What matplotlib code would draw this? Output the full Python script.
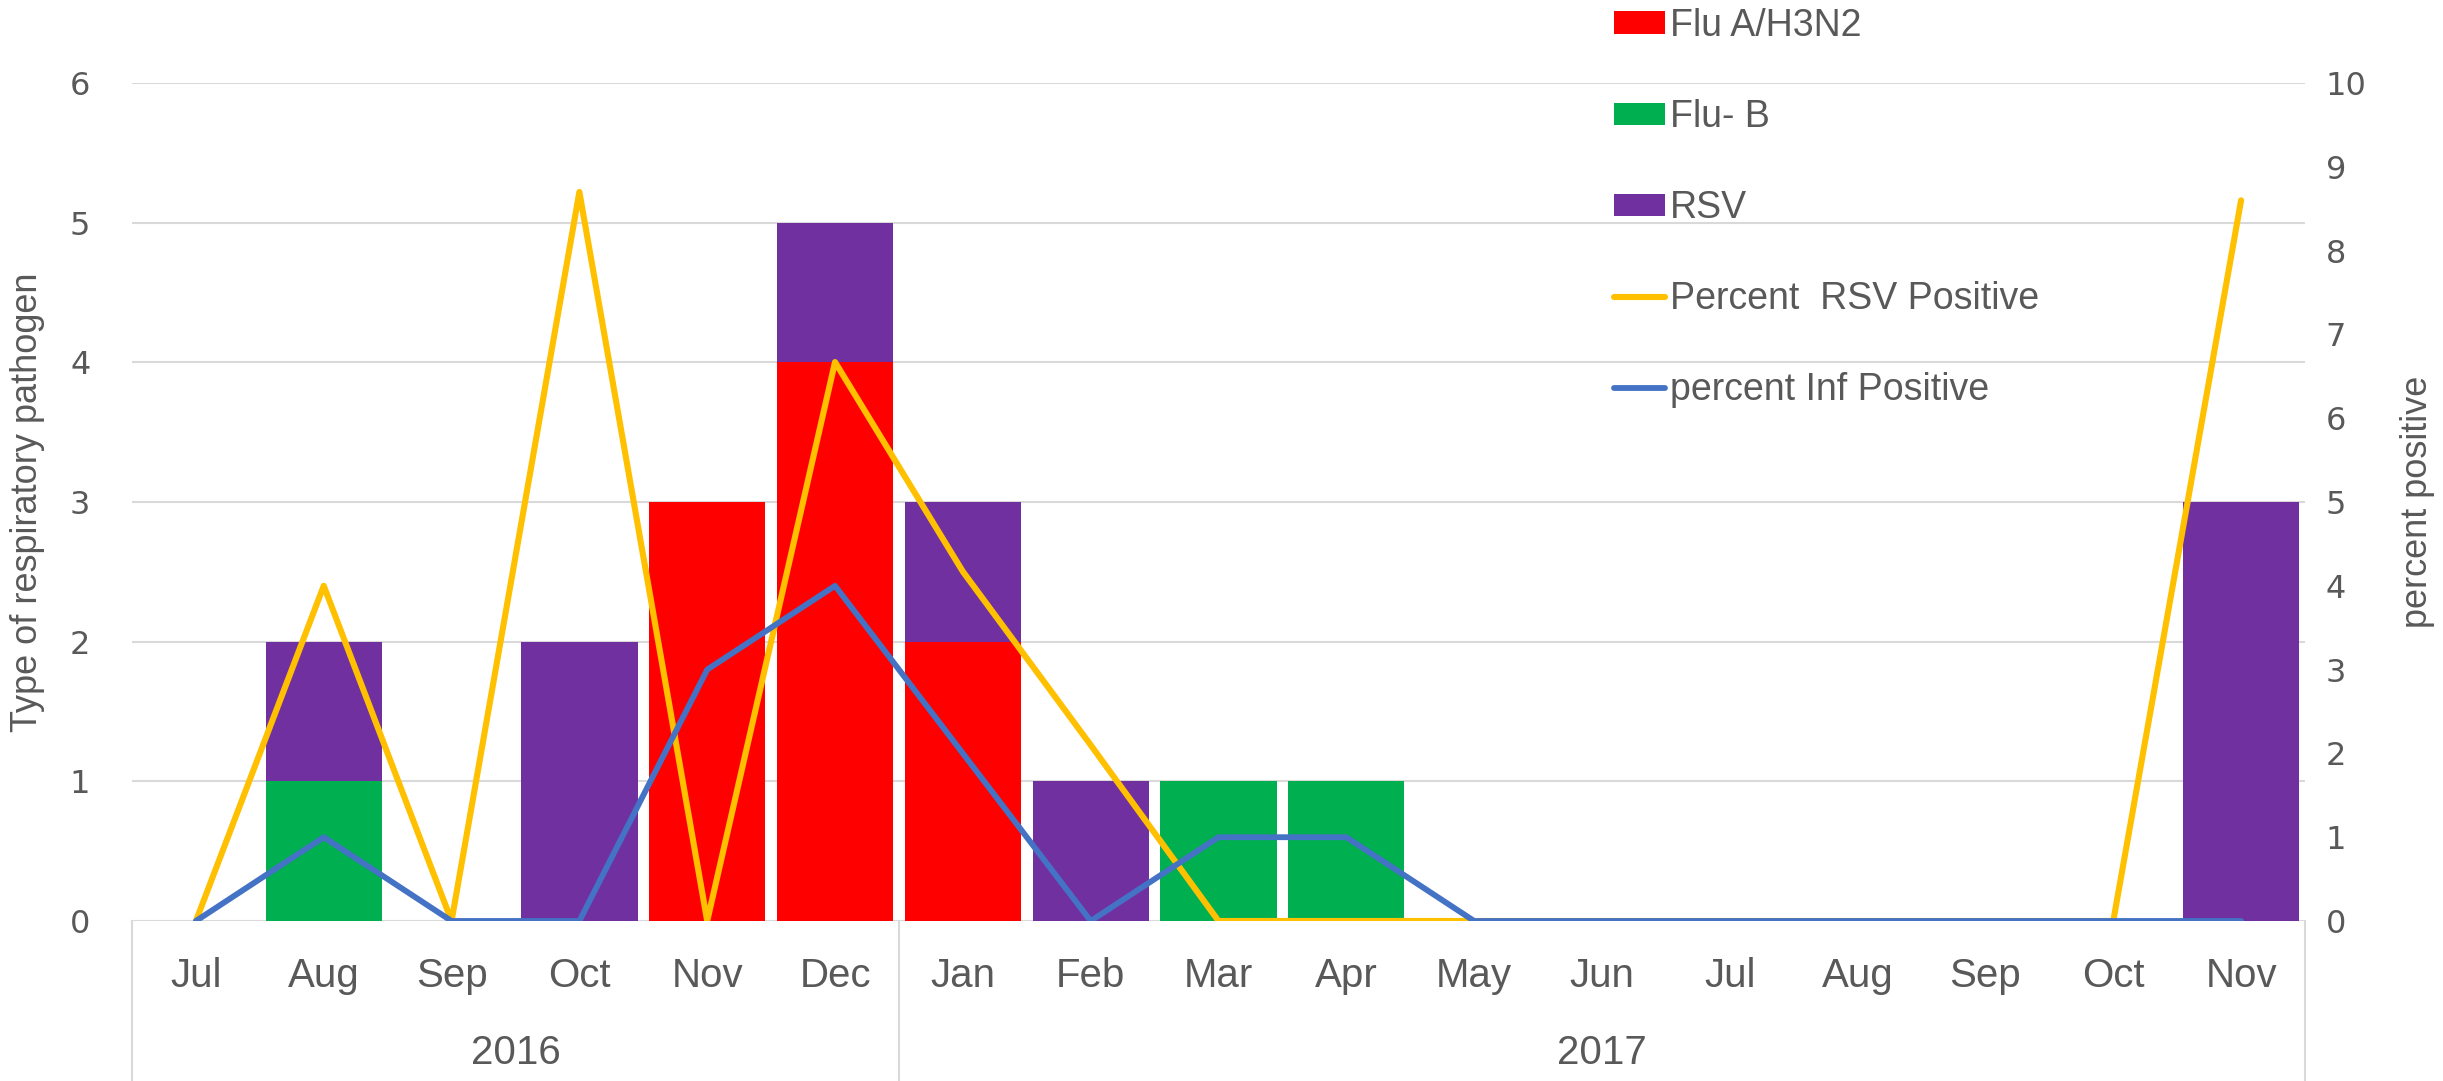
import matplotlib
matplotlib.use("Agg")
import matplotlib.pyplot as plt
import matplotlib.transforms as mtransforms
import numpy as np

months = ["Jul", "Aug", "Sep", "Oct", "Nov", "Dec",
          "Jan", "Feb", "Mar", "Apr", "May", "Jun", "Jul", "Aug", "Sep", "Oct", "Nov"]
years = ["2016", "2017"]

flu_a = [0, 0, 0, 0, 3, 4, 2, 0, 0, 0, 0, 0, 0, 0, 0, 0, 0]
flu_b = [0, 1, 0, 0, 0, 0, 0, 0, 1, 1, 0, 0, 0, 0, 0, 0, 0]
rsv = [0, 1, 0, 2, 0, 1, 1, 1, 0, 0, 0, 0, 0, 0, 0, 0, 3]

pct_rsv = [0, 4.0, 0, 8.7, 0, 6.67, 4.17, 2.1, 0, 0, 0, 0, 0, 0, 0, 0, 8.6]
pct_inf = [0, 1, 0, 0, 3, 4, 2, 0, 1, 1, 0, 0, 0, 0, 0, 0, 0]

txt = "#595959"
grid_c = "#D9D9D9"
sans = ["Liberation Sans", "DejaVu Sans"]

fig = plt.figure(figsize=(24.43, 10.81), dpi=100)
ax = fig.add_axes([132 / 2443, 1 - 921 / 1081, (2305 - 132) / 2443, (921 - 83) / 1081])
ax2 = ax.twinx()

x = np.arange(len(months))
w = 0.91
a = np.array(flu_a)
b = np.array(flu_b)
r = np.array(rsv)
h1 = ax.bar(x, a, w, color="#FF0000", label="Flu A/H3N2", zorder=2)
h2 = ax.bar(x, b, w, bottom=a, color="#00B050", label="Flu- B", zorder=2)
h3 = ax.bar(x, r, w, bottom=a + b, color="#7030A0", label="RSV", zorder=2)

l1, = ax2.plot(x, pct_rsv, color="#FFC000", lw=4.4, solid_joinstyle="round",
               solid_capstyle="round", label="Percent  RSV Positive")
l2, = ax2.plot(x, pct_inf, color="#4472C4", lw=4.2, solid_joinstyle="round",
               solid_capstyle="round", label="percent Inf Positive")

ax.set_xlim(-0.5, len(months) - 0.5)
ax.set_ylim(0, 6)
ax2.set_ylim(0, 10)
ax.set_yticks(range(0, 7))
ax2.set_yticks(range(0, 11))
ax.set_axisbelow(True)
ax.grid(axis="y", color=grid_c, lw=1.5)
for s in ax.spines.values():
    s.set_visible(False)
for s in ax2.spines.values():
    s.set_visible(False)

ax.set_xticks(x)
ax.set_xticklabels(months, family=sans, fontsize=29, color=txt)
ax.tick_params(axis="x", length=0, pad=26)
ax.tick_params(axis="y", length=0, pad=30, labelsize=23, labelcolor=txt)
ax2.tick_params(axis="y", length=0, pad=15, labelsize=23, labelcolor=txt)

ax.set_ylabel("Type of respiratory pathogen", family=sans, fontsize=26, color=txt, labelpad=18)
ax2.set_ylabel("percent positive", family=sans, fontsize=26, color=txt, labelpad=24)

# year group labels and separators
trans = mtransforms.blended_transform_factory(ax.transData, ax.transAxes)
for xs in [-0.5, 5.5, 16.5]:
    ax.plot([xs, xs], [0, -0.2], color=grid_c, lw=1.5, transform=trans, clip_on=False)
ax.text(2.5, -0.1575, years[0], transform=trans, ha="center", va="center",
        family=sans, fontsize=29, color=txt)
ax.text(11, -0.1575, years[1], transform=trans, ha="center", va="center",
        family=sans, fontsize=29, color=txt)

leg = fig.legend([h1, h2, h3, l1, l2],
                 ["Flu A/H3N2", "Flu- B", "RSV", "Percent  RSV Positive", "percent Inf Positive"],
                 loc="upper left", bbox_to_anchor=(1614 / 2443, 1 - 8 / 1081), frameon=False,
                 prop={"family": sans, "size": 27}, labelcolor=txt,
                 handlelength=1.35, handleheight=0.55, handletextpad=0.15,
                 labelspacing=1.47, borderpad=0, borderaxespad=0)

fig.savefig("out.png", dpi=100)
